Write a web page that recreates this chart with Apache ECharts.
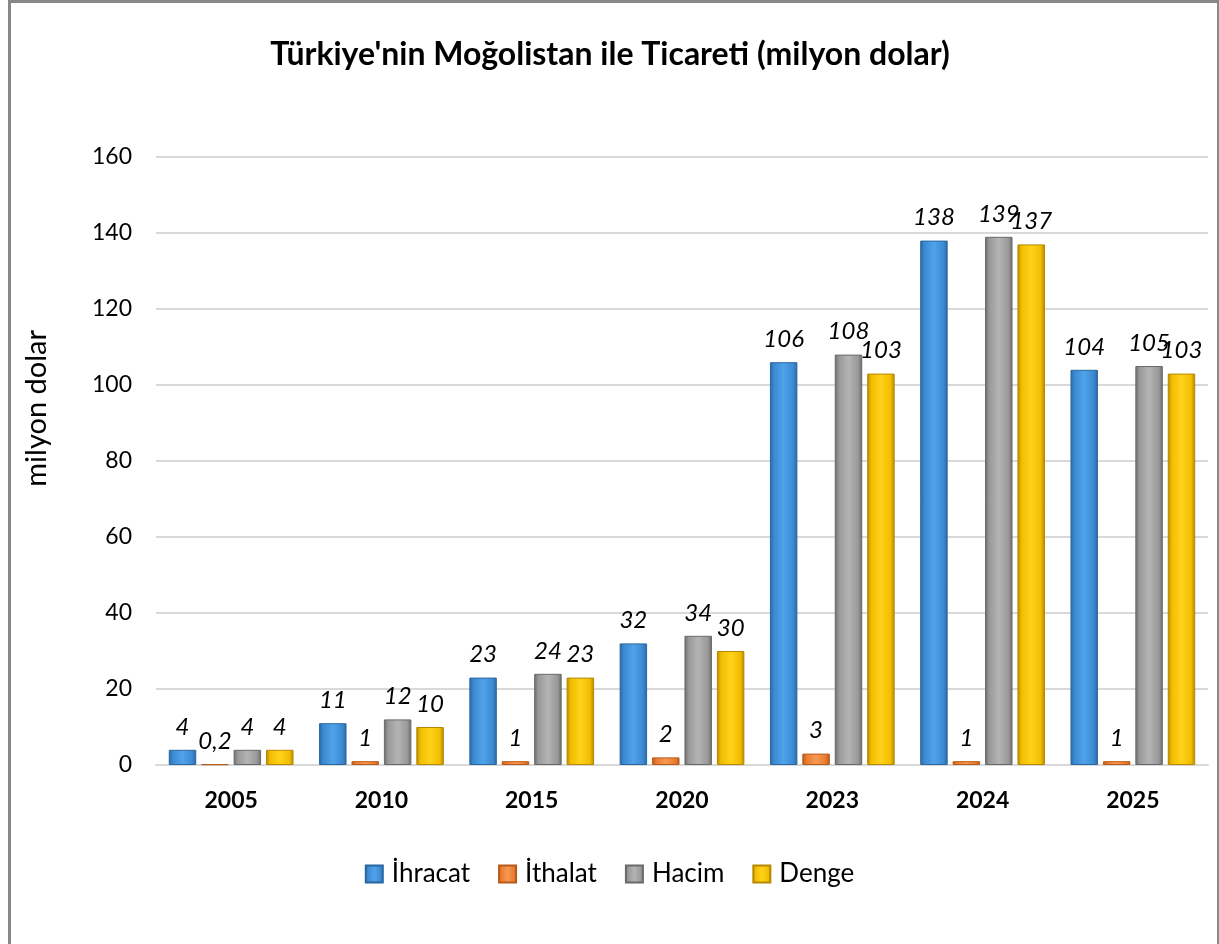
<!DOCTYPE html>
<html>
<head>
<meta charset="utf-8">
<script src="https://cdn.jsdelivr.net/npm/echarts@6/dist/echarts.min.js"></script>
<style>
  body { margin: 0; background: #fff; }
  #chart { position: absolute; left: 0; top: 0; width: 1219px; height: 944px; }
  .frame {
    position: absolute; left: 8px; top: 0px; width: 1206px; height: 960px;
    border: 3px solid #888; pointer-events: none;
  }
</style>
</head>
<body>
<div id="chart"></div>
<div class="frame"></div>
<script>
// data
var years = ["2005", "2010", "2015", "2020", "2023", "2024", "2025"];
var ihracat = [4, 11, 23, 32, 106, 138, 104];
var ithalat = [0.2, 1, 1, 2, 3, 1, 1];
var hacim = [4, 12, 24, 34, 108, 139, 105];
var denge = [4, 10, 23, 30, 103, 137, 103];
var yTicks = { min: 0, max: 160, interval: 20 };

var font = "Lato, 'Open Sans', sans-serif";

// bevel-like horizontal gradient
function bevel(edge, mid, light) {
  return new echarts.graphic.LinearGradient(0, 0, 1, 0, [
    { offset: 0, color: edge },
    { offset: 0.15, color: mid },
    { offset: 0.5, color: light },
    { offset: 0.85, color: mid },
    { offset: 1, color: edge }
  ]);
}

function makeSeries(name, data, edge, mid, light) {
  return {
    name: name,
    type: "bar",
    data: data,
    barGap: "18%",
    barCategoryGap: "17%",
    itemStyle: {
      color: bevel(edge, mid, light),
      borderColor: edge,
      borderWidth: 1
    },
    label: {
      show: true,
      position: "top",
      distance: 11,
      fontFamily: font,
      fontStyle: "italic",
      fontSize: 24,
      color: "#000",
      formatter: function (p) {
        return String(p.value).replace(".", ",");
      }
    }
  };
}

var chart = echarts.init(document.getElementById("chart"));
var option = {
  animation: false,
  title: {
    text: "Türkiye'nin Moğolistan ile Ticareti (milyon dolar)",
    left: 605,
    textAlign: "center",
    top: 34,
    textStyle: { fontFamily: font, fontWeight: "bold", fontSize: 32, color: "#000" }
  },
  legend: {
    data: ["İhracat", "İthalat", "Hacim", "Denge"],
    bottom: 52,
    left: "center",
    itemWidth: 17,
    itemHeight: 17,
    itemGap: 28,
    icon: "rect",
    textStyle: { fontFamily: font, fontSize: 26, color: "#000", padding: [0, 0, 0, 4] }
  },
  grid: { left: 156, right: 11, top: 157, bottom: 179 },
  graphic: [{
    type: "text",
    left: 22,
    top: 330,
    rotation: Math.PI / 2,
    style: { text: "milyon dolar", fontFamily: font, fontSize: 29, fill: "#000" }
  }],
  xAxis: {
    type: "category",
    data: years,
    axisTick: { show: false },
    axisLine: { lineStyle: { color: "#d9d9d9", width: 2 } },
    axisLabel: { fontFamily: font, fontWeight: "bold", fontSize: 23, color: "#000", margin: 24 }
  },
  yAxis: {
    type: "value",
    min: yTicks.min,
    max: yTicks.max,
    interval: yTicks.interval,
    axisLine: { show: false },
    axisTick: { show: false },
    splitLine: { lineStyle: { color: "#d9d9d9", width: 2 } },
    axisLabel: { fontFamily: font, fontSize: 23, color: "#000", margin: 24 }
  },
  series: [
    makeSeries("İhracat", ihracat, "#2b679f", "#3b8ad2", "#4fa3ea"),
    makeSeries("İthalat", ithalat, "#b85a18", "#ec7a2c", "#f59a55"),
    makeSeries("Hacim", hacim, "#6a6a6a", "#999999", "#b4b4b4"),
    makeSeries("Denge", denge, "#b58800", "#f2bd00", "#ffd21a")
  ]
};
chart.setOption(option);
</script>
</body>
</html>
